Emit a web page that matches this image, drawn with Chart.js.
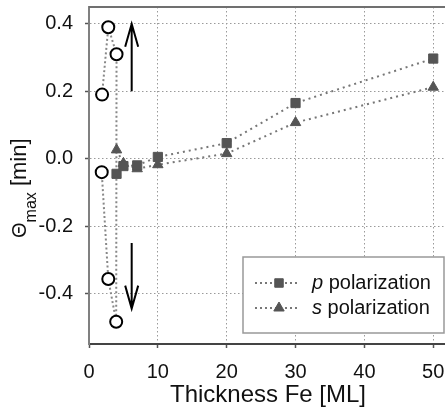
<!DOCTYPE html>
<html>
<head>
<meta charset="utf-8">
<script src="https://cdn.jsdelivr.net/npm/chart.js@4/dist/chart.umd.min.js"></script>
<style>
  html, body { margin: 0; padding: 0; background: #fff; overflow: hidden; }
  canvas { display: block; }
</style>
</head>
<body>
<canvas id="c" width="447" height="410"></canvas>
<script>
// ---- data ----
const circleX = [1.9, 2.8, 4.0, 3.95, 2.8, 1.85];
const circleY = [0.19, 0.39, 0.31, -0.484, -0.357, -0.04];

const pX = [4, 5, 7, 10, 20, 30, 50];
const pY = [-0.045, -0.022, -0.02, 0.005, 0.046, 0.165, 0.297];

const sX = [4, 5, 7, 10, 20, 30, 50];
const sY = [0.026, -0.014, -0.03, -0.018, 0.015, 0.107, 0.212];

const xTicks = [0, 10, 20, 30, 40, 50];
const yTicks = [-0.4, -0.2, 0.0, 0.2, 0.4];

const legendLabels = [["p", " polarization"], ["s", " polarization"]];
const xTitle = "Thickness Fe [ML]";
const yTitleParts = ["\u0398", "max", " [min]"];

// arrows (data units): x, from, to
const arrowX = [6.2, 6.2];
const arrowFrom = [0.2, -0.25];
const arrowTo = [0.4, -0.445];

const FONT = "'Liberation Sans', Arial, sans-serif";
const MARK = '#555555';
const LINE = '#777777';

const toPts = (xs, ys) => xs.map((x, i) => ({ x: x, y: ys[i] }));

const framePlugin = {
  id: 'frame',
  beforeDatasetsDraw(chart) {
    const { ctx, chartArea: a } = chart;
    ctx.save();
    ctx.strokeStyle = '#707070';
    ctx.lineWidth = 2;
    ctx.beginPath();
    ctx.moveTo(a.left, a.top);
    ctx.lineTo(a.right, a.top);
    ctx.stroke();
    ctx.restore();
  }
};

const arrowPlugin = {
  id: 'arrows',
  afterDatasetsDraw(chart) {
    const { ctx, scales: { x, y } } = chart;
    ctx.save();
    ctx.strokeStyle = '#000';
    ctx.lineWidth = 2;
    for (let i = 0; i < arrowX.length; i++) {
      const px = x.getPixelForValue(arrowX[i]);
      const y0 = y.getPixelForValue(arrowFrom[i]);
      const y1 = y.getPixelForValue(arrowTo[i]);
      const dir = y1 < y0 ? 1 : -1;
      ctx.beginPath();
      ctx.moveTo(px, y0);
      ctx.lineTo(px, y1);
      ctx.moveTo(px - 6.5, y1 + dir * 23);
      ctx.lineTo(px, y1);
      ctx.lineTo(px + 6.5, y1 + dir * 23);
      ctx.stroke();
    }
    ctx.restore();
  }
};

const legendPlugin = {
  id: 'customLegend',
  afterDraw(chart) {
    const { ctx } = chart;
    const bx = 243, by = 257, bw = 201, bh = 76;
    ctx.save();
    ctx.fillStyle = '#fff';
    ctx.fillRect(bx, by, bw, bh);
    ctx.strokeStyle = '#999';
    ctx.lineWidth = 1.5;
    ctx.strokeRect(bx, by, bw, bh);
    const rows = [283, 308];
    const styles = ['rect', 'triangle'];
    for (let i = 0; i < rows.length; i++) {
      const ry = rows[i];
      ctx.strokeStyle = LINE;
      ctx.lineWidth = 2;
      ctx.setLineDash([2, 3]);
      ctx.beginPath();
      ctx.moveTo(255, ry);
      ctx.lineTo(300, ry);
      ctx.stroke();
      ctx.setLineDash([]);
      ctx.fillStyle = MARK;
      ctx.strokeStyle = MARK;
      ctx.lineWidth = 1;
      Chart.helpers.drawPoint(ctx, { pointStyle: styles[i], radius: 6, borderWidth: 1 }, 279, ry);
      ctx.fillStyle = '#111';
      ctx.textBaseline = 'middle';
      ctx.textAlign = 'left';
      ctx.font = 'italic 20px ' + FONT;
      ctx.fillText(legendLabels[i][0], 312, ry);
      const w = ctx.measureText(legendLabels[i][0]).width;
      ctx.font = '20px ' + FONT;
      ctx.fillText(legendLabels[i][1], 312 + w, ry);
    }
    ctx.restore();
  }
};

const yTitlePlugin = {
  id: 'yTitle',
  afterDraw(chart) {
    const { ctx } = chart;
    ctx.save();
    ctx.translate(26, 238);
    ctx.rotate(-Math.PI / 2);
    ctx.fillStyle = '#111';
    ctx.textBaseline = 'alphabetic';
    ctx.textAlign = 'left';
    ctx.font = '20px ' + FONT;
    ctx.fillText(yTitleParts[0], 0, 0);
    let off = ctx.measureText(yTitleParts[0]).width;
    ctx.font = '16px ' + FONT;
    ctx.fillText(yTitleParts[1], off, 10);
    off += ctx.measureText(yTitleParts[1]).width;
    ctx.font = '22px ' + FONT;
    ctx.fillText(yTitleParts[2], off, 0);
    ctx.restore();
  }
};

new Chart(document.getElementById('c'), {
  type: 'scatter',
  data: {
    datasets: [
      {
        label: 'p polarization',
        data: toPts(pX, pY),
        showLine: true,
        borderColor: LINE,
        borderWidth: 2,
        borderDash: [2, 4],
        pointStyle: 'rect',
        pointRadius: 6.5,
        pointBackgroundColor: MARK,
        pointBorderColor: MARK,
        pointBorderWidth: 1
      },
      {
        label: 's polarization',
        data: toPts(sX, sY),
        showLine: true,
        borderColor: LINE,
        borderWidth: 2,
        borderDash: [2, 4],
        pointStyle: 'triangle',
        pointRadius: 6,
        pointBackgroundColor: MARK,
        pointBorderColor: MARK,
        pointBorderWidth: 1
      },
      {
        label: 'circles',
        data: toPts(circleX, circleY),
        showLine: true,
        borderColor: '#888',
        borderWidth: 2,
        borderDash: [2, 2.5],
        pointStyle: 'circle',
        pointRadius: 6,
        pointBackgroundColor: '#fff',
        pointBorderColor: '#000',
        pointBorderWidth: 2
      }
    ]
  },
  options: {
    responsive: false,
    animation: false,
    layout: { autoPadding: false, padding: { top: 7, right: 0, left: 0, bottom: 0 } },
    plugins: {
      legend: { display: false },
      tooltip: { enabled: false }
    },
    scales: {
      x: {
        type: 'linear',
        min: 0,
        max: 52,
        afterBuildTicks: (s) => { s.ticks = xTicks.map(v => ({ value: v })); },
        afterFit: (s) => { s.height = 66; s.paddingLeft = 0; s.paddingRight = 0; },
        ticks: {
          color: '#111',
          font: { family: FONT, size: 20 },
          padding: 12,
          maxRotation: 0
        },
        grid: {
          color: '#9a9a9a',
          lineWidth: 1,
          drawTicks: true,
          tickLength: 4,
          tickColor: '#555',
          tickWidth: 1.5
        },
        border: { display: true, color: '#444', width: 2, dash: [1.5, 2.5] },
        title: {
          display: true,
          text: xTitle,
          color: '#111',
          font: { family: FONT, size: 24 },
          padding: 0
        }
      },
      y: {
        type: 'linear',
        min: -0.55,
        max: 0.45,
        afterBuildTicks: (s) => { s.ticks = yTicks.map(v => ({ value: v })); },
        afterFit: (s) => { s.width = 89; s.paddingTop = 0; s.paddingBottom = 0; },
        ticks: {
          color: '#111',
          font: { family: FONT, size: 20 },
          padding: 12,
          callback: (v) => Number(v).toFixed(1)
        },
        grid: {
          color: '#9a9a9a',
          lineWidth: 1,
          drawTicks: true,
          tickLength: 4,
          tickColor: '#555',
          tickWidth: 1.5
        },
        border: { display: true, color: '#808080', width: 2, dash: [1.5, 2.5] }
      }
    }
  },
  plugins: [framePlugin, arrowPlugin, legendPlugin, yTitlePlugin]
});
</script>
</body>
</html>
